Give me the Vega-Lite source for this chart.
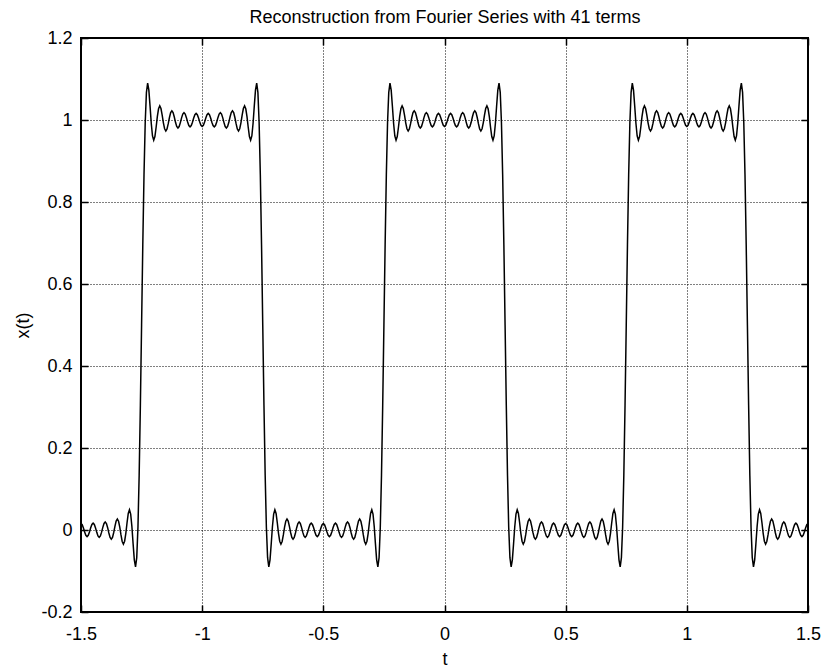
{
 "$schema": "https://vega.github.io/schema/vega-lite/v6.json",
 "width": 727,
 "height": 574,
 "autosize": {"type": "none"},
 "padding": {"left": 81, "top": 38, "right": 18, "bottom": 55},
 "background": "white",
 "config": {"font": "Liberation Sans", "view": {"stroke": "black", "strokeWidth": 2}},
 "data": {"values": [
{"t":-1.5,"x":0.0159},{"t":-1.495,"x":0.0128},{"t":-1.49,"x":0.0049},{"t":-1.485,"x":-0.005},{"t":-1.48,"x":-0.013},{"t":-1.475,"x":-0.0161},{"t":-1.47,"x":-0.013},{"t":-1.465,"x":-0.0049},{"t":-1.46,"x":0.0053},{"t":-1.455,"x":0.0135},{"t":-1.45,"x":0.0167},{"t":-1.445,"x":0.0135},{"t":-1.44,"x":0.005},{"t":-1.435,"x":-0.0057},{"t":-1.43,"x":-0.0144},{"t":-1.425,"x":-0.0178},{"t":-1.42,"x":-0.0143},{"t":-1.415,"x":-0.0052},{"t":-1.41,"x":0.0064},{"t":-1.405,"x":0.0159},{"t":-1.4,"x":0.0196},{"t":-1.395,"x":0.0158},{"t":-1.39,"x":0.0056},{"t":-1.385,"x":-0.0074},{"t":-1.38,"x":-0.0181},{"t":-1.375,"x":-0.0223},{"t":-1.37,"x":-0.018},{"t":-1.365,"x":-0.0061},{"t":-1.36,"x":0.009},{"t":-1.355,"x":0.0217},{"t":-1.35,"x":0.0268},{"t":-1.345,"x":0.0214},{"t":-1.34,"x":0.0069},{"t":-1.335,"x":-0.0119},{"t":-1.33,"x":-0.0279},{"t":-1.325,"x":-0.0344},{"t":-1.32,"x":-0.0274},{"t":-1.315,"x":-0.008},{"t":-1.31,"x":0.0177},{"t":-1.305,"x":0.0402},{"t":-1.3,"x":0.0494},{"t":-1.295,"x":0.0389},{"t":-1.29,"x":0.0086},{"t":-1.285,"x":-0.0336},{"t":-1.28,"x":-0.0727},{"t":-1.275,"x":-0.0899},{"t":-1.27,"x":-0.0675},{"t":-1.265,"x":0.0063},{"t":-1.26,"x":0.1334},{"t":-1.255,"x":0.3043},{"t":-1.25,"x":0.5},{"t":-1.245,"x":0.6957},{"t":-1.24,"x":0.8666},{"t":-1.235,"x":0.9937},{"t":-1.23,"x":1.0675},{"t":-1.225,"x":1.0899},{"t":-1.22,"x":1.0727},{"t":-1.215,"x":1.0336},{"t":-1.21,"x":0.9914},{"t":-1.205,"x":0.9611},{"t":-1.2,"x":0.9506},{"t":-1.195,"x":0.9598},{"t":-1.19,"x":0.9823},{"t":-1.185,"x":1.008},{"t":-1.18,"x":1.0274},{"t":-1.175,"x":1.0344},{"t":-1.17,"x":1.0279},{"t":-1.165,"x":1.0119},{"t":-1.16,"x":0.9931},{"t":-1.155,"x":0.9786},{"t":-1.15,"x":0.9732},{"t":-1.145,"x":0.9783},{"t":-1.14,"x":0.991},{"t":-1.135,"x":1.0061},{"t":-1.13,"x":1.018},{"t":-1.125,"x":1.0223},{"t":-1.12,"x":1.0181},{"t":-1.115,"x":1.0074},{"t":-1.11,"x":0.9944},{"t":-1.105,"x":0.9842},{"t":-1.1,"x":0.9804},{"t":-1.095,"x":0.9841},{"t":-1.09,"x":0.9936},{"t":-1.085,"x":1.0052},{"t":-1.08,"x":1.0143},{"t":-1.075,"x":1.0178},{"t":-1.07,"x":1.0144},{"t":-1.065,"x":1.0057},{"t":-1.06,"x":0.995},{"t":-1.055,"x":0.9865},{"t":-1.05,"x":0.9833},{"t":-1.045,"x":0.9865},{"t":-1.04,"x":0.9947},{"t":-1.035,"x":1.0049},{"t":-1.03,"x":1.013},{"t":-1.025,"x":1.0161},{"t":-1.02,"x":1.013},{"t":-1.015,"x":1.005},{"t":-1.01,"x":0.9951},{"t":-1.005,"x":0.9872},{"t":-1.0,"x":0.9841},
{"t":-0.995,"x":0.9872},{"t":-0.99,"x":0.9951},{"t":-0.985,"x":1.005},{"t":-0.98,"x":1.013},{"t":-0.975,"x":1.0161},{"t":-0.97,"x":1.013},{"t":-0.965,"x":1.0049},{"t":-0.96,"x":0.9947},{"t":-0.955,"x":0.9865},{"t":-0.95,"x":0.9833},{"t":-0.945,"x":0.9865},{"t":-0.94,"x":0.995},{"t":-0.935,"x":1.0057},{"t":-0.93,"x":1.0144},{"t":-0.925,"x":1.0178},{"t":-0.92,"x":1.0143},{"t":-0.915,"x":1.0052},{"t":-0.91,"x":0.9936},{"t":-0.905,"x":0.9841},{"t":-0.9,"x":0.9804},{"t":-0.895,"x":0.9842},{"t":-0.89,"x":0.9944},{"t":-0.885,"x":1.0074},{"t":-0.88,"x":1.0181},{"t":-0.875,"x":1.0223},{"t":-0.87,"x":1.018},{"t":-0.865,"x":1.0061},{"t":-0.86,"x":0.991},{"t":-0.855,"x":0.9783},{"t":-0.85,"x":0.9732},{"t":-0.845,"x":0.9786},{"t":-0.84,"x":0.9931},{"t":-0.835,"x":1.0119},{"t":-0.83,"x":1.0279},{"t":-0.825,"x":1.0344},{"t":-0.82,"x":1.0274},{"t":-0.815,"x":1.008},{"t":-0.81,"x":0.9823},{"t":-0.805,"x":0.9598},{"t":-0.8,"x":0.9506},{"t":-0.795,"x":0.9611},{"t":-0.79,"x":0.9914},{"t":-0.785,"x":1.0336},{"t":-0.78,"x":1.0727},{"t":-0.775,"x":1.0899},{"t":-0.77,"x":1.0675},{"t":-0.765,"x":0.9937},{"t":-0.76,"x":0.8666},{"t":-0.755,"x":0.6957},{"t":-0.75,"x":0.5},{"t":-0.745,"x":0.3043},{"t":-0.74,"x":0.1334},{"t":-0.735,"x":0.0063},{"t":-0.73,"x":-0.0675},{"t":-0.725,"x":-0.0899},{"t":-0.72,"x":-0.0727},{"t":-0.715,"x":-0.0336},{"t":-0.71,"x":0.0086},{"t":-0.705,"x":0.0389},{"t":-0.7,"x":0.0494},{"t":-0.695,"x":0.0402},{"t":-0.69,"x":0.0177},{"t":-0.685,"x":-0.008},{"t":-0.68,"x":-0.0274},{"t":-0.675,"x":-0.0344},{"t":-0.67,"x":-0.0279},{"t":-0.665,"x":-0.0119},{"t":-0.66,"x":0.0069},{"t":-0.655,"x":0.0214},{"t":-0.65,"x":0.0268},{"t":-0.645,"x":0.0217},{"t":-0.64,"x":0.009},{"t":-0.635,"x":-0.0061},{"t":-0.63,"x":-0.018},{"t":-0.625,"x":-0.0223},{"t":-0.62,"x":-0.0181},{"t":-0.615,"x":-0.0074},{"t":-0.61,"x":0.0056},{"t":-0.605,"x":0.0158},{"t":-0.6,"x":0.0196},{"t":-0.595,"x":0.0159},{"t":-0.59,"x":0.0064},{"t":-0.585,"x":-0.0052},{"t":-0.58,"x":-0.0143},{"t":-0.575,"x":-0.0178},{"t":-0.57,"x":-0.0144},{"t":-0.565,"x":-0.0057},{"t":-0.56,"x":0.005},{"t":-0.555,"x":0.0135},{"t":-0.55,"x":0.0167},{"t":-0.545,"x":0.0135},{"t":-0.54,"x":0.0053},{"t":-0.535,"x":-0.0049},{"t":-0.53,"x":-0.013},{"t":-0.525,"x":-0.0161},{"t":-0.52,"x":-0.013},{"t":-0.515,"x":-0.005},{"t":-0.51,"x":0.0049},{"t":-0.505,"x":0.0128},{"t":-0.5,"x":0.0159},
{"t":-0.495,"x":0.0128},{"t":-0.49,"x":0.0049},{"t":-0.485,"x":-0.005},{"t":-0.48,"x":-0.013},{"t":-0.475,"x":-0.0161},{"t":-0.47,"x":-0.013},{"t":-0.465,"x":-0.0049},{"t":-0.46,"x":0.0053},{"t":-0.455,"x":0.0135},{"t":-0.45,"x":0.0167},{"t":-0.445,"x":0.0135},{"t":-0.44,"x":0.005},{"t":-0.435,"x":-0.0057},{"t":-0.43,"x":-0.0144},{"t":-0.425,"x":-0.0178},{"t":-0.42,"x":-0.0143},{"t":-0.415,"x":-0.0052},{"t":-0.41,"x":0.0064},{"t":-0.405,"x":0.0159},{"t":-0.4,"x":0.0196},{"t":-0.395,"x":0.0158},{"t":-0.39,"x":0.0056},{"t":-0.385,"x":-0.0074},{"t":-0.38,"x":-0.0181},{"t":-0.375,"x":-0.0223},{"t":-0.37,"x":-0.018},{"t":-0.365,"x":-0.0061},{"t":-0.36,"x":0.009},{"t":-0.355,"x":0.0217},{"t":-0.35,"x":0.0268},{"t":-0.345,"x":0.0214},{"t":-0.34,"x":0.0069},{"t":-0.335,"x":-0.0119},{"t":-0.33,"x":-0.0279},{"t":-0.325,"x":-0.0344},{"t":-0.32,"x":-0.0274},{"t":-0.315,"x":-0.008},{"t":-0.31,"x":0.0177},{"t":-0.305,"x":0.0402},{"t":-0.3,"x":0.0494},{"t":-0.295,"x":0.0389},{"t":-0.29,"x":0.0086},{"t":-0.285,"x":-0.0336},{"t":-0.28,"x":-0.0727},{"t":-0.275,"x":-0.0899},{"t":-0.27,"x":-0.0675},{"t":-0.265,"x":0.0063},{"t":-0.26,"x":0.1334},{"t":-0.255,"x":0.3043},{"t":-0.25,"x":0.5},{"t":-0.245,"x":0.6957},{"t":-0.24,"x":0.8666},{"t":-0.235,"x":0.9937},{"t":-0.23,"x":1.0675},{"t":-0.225,"x":1.0899},{"t":-0.22,"x":1.0727},{"t":-0.215,"x":1.0336},{"t":-0.21,"x":0.9914},{"t":-0.205,"x":0.9611},{"t":-0.2,"x":0.9506},{"t":-0.195,"x":0.9598},{"t":-0.19,"x":0.9823},{"t":-0.185,"x":1.008},{"t":-0.18,"x":1.0274},{"t":-0.175,"x":1.0344},{"t":-0.17,"x":1.0279},{"t":-0.165,"x":1.0119},{"t":-0.16,"x":0.9931},{"t":-0.155,"x":0.9786},{"t":-0.15,"x":0.9732},{"t":-0.145,"x":0.9783},{"t":-0.14,"x":0.991},{"t":-0.135,"x":1.0061},{"t":-0.13,"x":1.018},{"t":-0.125,"x":1.0223},{"t":-0.12,"x":1.0181},{"t":-0.115,"x":1.0074},{"t":-0.11,"x":0.9944},{"t":-0.105,"x":0.9842},{"t":-0.1,"x":0.9804},{"t":-0.095,"x":0.9841},{"t":-0.09,"x":0.9936},{"t":-0.085,"x":1.0052},{"t":-0.08,"x":1.0143},{"t":-0.075,"x":1.0178},{"t":-0.07,"x":1.0144},{"t":-0.065,"x":1.0057},{"t":-0.06,"x":0.995},{"t":-0.055,"x":0.9865},{"t":-0.05,"x":0.9833},{"t":-0.045,"x":0.9865},{"t":-0.04,"x":0.9947},{"t":-0.035,"x":1.0049},{"t":-0.03,"x":1.013},{"t":-0.025,"x":1.0161},{"t":-0.02,"x":1.013},{"t":-0.015,"x":1.005},{"t":-0.01,"x":0.9951},{"t":-0.005,"x":0.9872},{"t":0,"x":0.9841},
{"t":0.005,"x":0.9872},{"t":0.01,"x":0.9951},{"t":0.015,"x":1.005},{"t":0.02,"x":1.013},{"t":0.025,"x":1.0161},{"t":0.03,"x":1.013},{"t":0.035,"x":1.0049},{"t":0.04,"x":0.9947},{"t":0.045,"x":0.9865},{"t":0.05,"x":0.9833},{"t":0.055,"x":0.9865},{"t":0.06,"x":0.995},{"t":0.065,"x":1.0057},{"t":0.07,"x":1.0144},{"t":0.075,"x":1.0178},{"t":0.08,"x":1.0143},{"t":0.085,"x":1.0052},{"t":0.09,"x":0.9936},{"t":0.095,"x":0.9841},{"t":0.1,"x":0.9804},{"t":0.105,"x":0.9842},{"t":0.11,"x":0.9944},{"t":0.115,"x":1.0074},{"t":0.12,"x":1.0181},{"t":0.125,"x":1.0223},{"t":0.13,"x":1.018},{"t":0.135,"x":1.0061},{"t":0.14,"x":0.991},{"t":0.145,"x":0.9783},{"t":0.15,"x":0.9732},{"t":0.155,"x":0.9786},{"t":0.16,"x":0.9931},{"t":0.165,"x":1.0119},{"t":0.17,"x":1.0279},{"t":0.175,"x":1.0344},{"t":0.18,"x":1.0274},{"t":0.185,"x":1.008},{"t":0.19,"x":0.9823},{"t":0.195,"x":0.9598},{"t":0.2,"x":0.9506},{"t":0.205,"x":0.9611},{"t":0.21,"x":0.9914},{"t":0.215,"x":1.0336},{"t":0.22,"x":1.0727},{"t":0.225,"x":1.0899},{"t":0.23,"x":1.0675},{"t":0.235,"x":0.9937},{"t":0.24,"x":0.8666},{"t":0.245,"x":0.6957},{"t":0.25,"x":0.5},{"t":0.255,"x":0.3043},{"t":0.26,"x":0.1334},{"t":0.265,"x":0.0063},{"t":0.27,"x":-0.0675},{"t":0.275,"x":-0.0899},{"t":0.28,"x":-0.0727},{"t":0.285,"x":-0.0336},{"t":0.29,"x":0.0086},{"t":0.295,"x":0.0389},{"t":0.3,"x":0.0494},{"t":0.305,"x":0.0402},{"t":0.31,"x":0.0177},{"t":0.315,"x":-0.008},{"t":0.32,"x":-0.0274},{"t":0.325,"x":-0.0344},{"t":0.33,"x":-0.0279},{"t":0.335,"x":-0.0119},{"t":0.34,"x":0.0069},{"t":0.345,"x":0.0214},{"t":0.35,"x":0.0268},{"t":0.355,"x":0.0217},{"t":0.36,"x":0.009},{"t":0.365,"x":-0.0061},{"t":0.37,"x":-0.018},{"t":0.375,"x":-0.0223},{"t":0.38,"x":-0.0181},{"t":0.385,"x":-0.0074},{"t":0.39,"x":0.0056},{"t":0.395,"x":0.0158},{"t":0.4,"x":0.0196},{"t":0.405,"x":0.0159},{"t":0.41,"x":0.0064},{"t":0.415,"x":-0.0052},{"t":0.42,"x":-0.0143},{"t":0.425,"x":-0.0178},{"t":0.43,"x":-0.0144},{"t":0.435,"x":-0.0057},{"t":0.44,"x":0.005},{"t":0.445,"x":0.0135},{"t":0.45,"x":0.0167},{"t":0.455,"x":0.0135},{"t":0.46,"x":0.0053},{"t":0.465,"x":-0.0049},{"t":0.47,"x":-0.013},{"t":0.475,"x":-0.0161},{"t":0.48,"x":-0.013},{"t":0.485,"x":-0.005},{"t":0.49,"x":0.0049},{"t":0.495,"x":0.0128},{"t":0.5,"x":0.0159},
{"t":0.505,"x":0.0128},{"t":0.51,"x":0.0049},{"t":0.515,"x":-0.005},{"t":0.52,"x":-0.013},{"t":0.525,"x":-0.0161},{"t":0.53,"x":-0.013},{"t":0.535,"x":-0.0049},{"t":0.54,"x":0.0053},{"t":0.545,"x":0.0135},{"t":0.55,"x":0.0167},{"t":0.555,"x":0.0135},{"t":0.56,"x":0.005},{"t":0.565,"x":-0.0057},{"t":0.57,"x":-0.0144},{"t":0.575,"x":-0.0178},{"t":0.58,"x":-0.0143},{"t":0.585,"x":-0.0052},{"t":0.59,"x":0.0064},{"t":0.595,"x":0.0159},{"t":0.6,"x":0.0196},{"t":0.605,"x":0.0158},{"t":0.61,"x":0.0056},{"t":0.615,"x":-0.0074},{"t":0.62,"x":-0.0181},{"t":0.625,"x":-0.0223},{"t":0.63,"x":-0.018},{"t":0.635,"x":-0.0061},{"t":0.64,"x":0.009},{"t":0.645,"x":0.0217},{"t":0.65,"x":0.0268},{"t":0.655,"x":0.0214},{"t":0.66,"x":0.0069},{"t":0.665,"x":-0.0119},{"t":0.67,"x":-0.0279},{"t":0.675,"x":-0.0344},{"t":0.68,"x":-0.0274},{"t":0.685,"x":-0.008},{"t":0.69,"x":0.0177},{"t":0.695,"x":0.0402},{"t":0.7,"x":0.0494},{"t":0.705,"x":0.0389},{"t":0.71,"x":0.0086},{"t":0.715,"x":-0.0336},{"t":0.72,"x":-0.0727},{"t":0.725,"x":-0.0899},{"t":0.73,"x":-0.0675},{"t":0.735,"x":0.0063},{"t":0.74,"x":0.1334},{"t":0.745,"x":0.3043},{"t":0.75,"x":0.5},{"t":0.755,"x":0.6957},{"t":0.76,"x":0.8666},{"t":0.765,"x":0.9937},{"t":0.77,"x":1.0675},{"t":0.775,"x":1.0899},{"t":0.78,"x":1.0727},{"t":0.785,"x":1.0336},{"t":0.79,"x":0.9914},{"t":0.795,"x":0.9611},{"t":0.8,"x":0.9506},{"t":0.805,"x":0.9598},{"t":0.81,"x":0.9823},{"t":0.815,"x":1.008},{"t":0.82,"x":1.0274},{"t":0.825,"x":1.0344},{"t":0.83,"x":1.0279},{"t":0.835,"x":1.0119},{"t":0.84,"x":0.9931},{"t":0.845,"x":0.9786},{"t":0.85,"x":0.9732},{"t":0.855,"x":0.9783},{"t":0.86,"x":0.991},{"t":0.865,"x":1.0061},{"t":0.87,"x":1.018},{"t":0.875,"x":1.0223},{"t":0.88,"x":1.0181},{"t":0.885,"x":1.0074},{"t":0.89,"x":0.9944},{"t":0.895,"x":0.9842},{"t":0.9,"x":0.9804},{"t":0.905,"x":0.9841},{"t":0.91,"x":0.9936},{"t":0.915,"x":1.0052},{"t":0.92,"x":1.0143},{"t":0.925,"x":1.0178},{"t":0.93,"x":1.0144},{"t":0.935,"x":1.0057},{"t":0.94,"x":0.995},{"t":0.945,"x":0.9865},{"t":0.95,"x":0.9833},{"t":0.955,"x":0.9865},{"t":0.96,"x":0.9947},{"t":0.965,"x":1.0049},{"t":0.97,"x":1.013},{"t":0.975,"x":1.0161},{"t":0.98,"x":1.013},{"t":0.985,"x":1.005},{"t":0.99,"x":0.9951},{"t":0.995,"x":0.9872},{"t":1.0,"x":0.9841},
{"t":1.005,"x":0.9872},{"t":1.01,"x":0.9951},{"t":1.015,"x":1.005},{"t":1.02,"x":1.013},{"t":1.025,"x":1.0161},{"t":1.03,"x":1.013},{"t":1.035,"x":1.0049},{"t":1.04,"x":0.9947},{"t":1.045,"x":0.9865},{"t":1.05,"x":0.9833},{"t":1.055,"x":0.9865},{"t":1.06,"x":0.995},{"t":1.065,"x":1.0057},{"t":1.07,"x":1.0144},{"t":1.075,"x":1.0178},{"t":1.08,"x":1.0143},{"t":1.085,"x":1.0052},{"t":1.09,"x":0.9936},{"t":1.095,"x":0.9841},{"t":1.1,"x":0.9804},{"t":1.105,"x":0.9842},{"t":1.11,"x":0.9944},{"t":1.115,"x":1.0074},{"t":1.12,"x":1.0181},{"t":1.125,"x":1.0223},{"t":1.13,"x":1.018},{"t":1.135,"x":1.0061},{"t":1.14,"x":0.991},{"t":1.145,"x":0.9783},{"t":1.15,"x":0.9732},{"t":1.155,"x":0.9786},{"t":1.16,"x":0.9931},{"t":1.165,"x":1.0119},{"t":1.17,"x":1.0279},{"t":1.175,"x":1.0344},{"t":1.18,"x":1.0274},{"t":1.185,"x":1.008},{"t":1.19,"x":0.9823},{"t":1.195,"x":0.9598},{"t":1.2,"x":0.9506},{"t":1.205,"x":0.9611},{"t":1.21,"x":0.9914},{"t":1.215,"x":1.0336},{"t":1.22,"x":1.0727},{"t":1.225,"x":1.0899},{"t":1.23,"x":1.0675},{"t":1.235,"x":0.9937},{"t":1.24,"x":0.8666},{"t":1.245,"x":0.6957},{"t":1.25,"x":0.5},{"t":1.255,"x":0.3043},{"t":1.26,"x":0.1334},{"t":1.265,"x":0.0063},{"t":1.27,"x":-0.0675},{"t":1.275,"x":-0.0899},{"t":1.28,"x":-0.0727},{"t":1.285,"x":-0.0336},{"t":1.29,"x":0.0086},{"t":1.295,"x":0.0389},{"t":1.3,"x":0.0494},{"t":1.305,"x":0.0402},{"t":1.31,"x":0.0177},{"t":1.315,"x":-0.008},{"t":1.32,"x":-0.0274},{"t":1.325,"x":-0.0344},{"t":1.33,"x":-0.0279},{"t":1.335,"x":-0.0119},{"t":1.34,"x":0.0069},{"t":1.345,"x":0.0214},{"t":1.35,"x":0.0268},{"t":1.355,"x":0.0217},{"t":1.36,"x":0.009},{"t":1.365,"x":-0.0061},{"t":1.37,"x":-0.018},{"t":1.375,"x":-0.0223},{"t":1.38,"x":-0.0181},{"t":1.385,"x":-0.0074},{"t":1.39,"x":0.0056},{"t":1.395,"x":0.0158},{"t":1.4,"x":0.0196},{"t":1.405,"x":0.0159},{"t":1.41,"x":0.0064},{"t":1.415,"x":-0.0052},{"t":1.42,"x":-0.0143},{"t":1.425,"x":-0.0178},{"t":1.43,"x":-0.0144},{"t":1.435,"x":-0.0057},{"t":1.44,"x":0.005},{"t":1.445,"x":0.0135},{"t":1.45,"x":0.0167},{"t":1.455,"x":0.0135},{"t":1.46,"x":0.0053},{"t":1.465,"x":-0.0049},{"t":1.47,"x":-0.013},{"t":1.475,"x":-0.0161},{"t":1.48,"x":-0.013},{"t":1.485,"x":-0.005},{"t":1.49,"x":0.0049},{"t":1.495,"x":0.0128},{"t":1.5,"x":0.0159}
 ]},
 "layer": [
  {
   "mark": {"type": "line", "color": "black", "strokeWidth": 1.5},
   "encoding": {
    "x": {"field": "t", "type": "quantitative", "scale": {"domain": [-1.5, 1.5], "nice": false, "zero": false},
     "axis": {"orient": "bottom", "values": [-1.5, -1, -0.5, 0, 0.5, 1, 1.5], "labelExpr": "'' + datum.value", "ticks": false, "tickSize": 0, "domain": false, "grid": true, "gridColor": "black", "gridDash": [1, 2], "gridWidth": 1, "labelFontSize": 18, "labelColor": "black", "labelFont": "Liberation Sans", "labelBaseline": "alphabetic", "labelPadding": 27, "labelFlush": false, "labelOverlap": false, "title": "t", "titleFontSize": 18, "titleFontWeight": "normal", "titleColor": "black", "titleFont": "Liberation Sans", "titleX": 363.5, "titleY": 52, "titleAlign": "center", "titleBaseline": "alphabetic"}},
    "y": {"field": "x", "type": "quantitative", "scale": {"domain": [-0.2, 1.2], "nice": false, "zero": false},
     "axis": {"orient": "left", "values": [-0.2, 0, 0.2, 0.4, 0.6, 0.8, 1, 1.2], "labelExpr": "'' + datum.value", "ticks": false, "tickSize": 0, "domain": false, "grid": true, "gridColor": "black", "gridDash": [1, 2], "gridWidth": 1, "labelFontSize": 18, "labelColor": "black", "labelFont": "Liberation Sans", "labelBaseline": "middle", "labelAlign": "right", "labelPadding": 9, "labelFlush": false, "labelOverlap": false, "title": "x(t)", "titleFontSize": 18, "titleFontWeight": "normal", "titleColor": "black", "titleFont": "Liberation Sans", "titleX": -58, "titleY": 287, "titleAngle": -90, "titleAlign": "center", "titleBaseline": "middle"}}
   }
  },
  {
   "mark": {"type": "line", "strokeOpacity": 0},
   "encoding": {
    "x": {"field": "t", "type": "quantitative", "scale": {"domain": [-1.5, 1.5], "nice": false, "zero": false},
     "axis": {"orient": "top", "values": [-1.5, -1, -0.5, 0, 0.5, 1, 1.5], "labels": false, "grid": false, "domain": false, "ticks": true, "tickSize": -7, "tickColor": "black", "tickWidth": 1.5, "title": "Reconstruction from Fourier Series with 41 terms", "titleFontSize": 18, "titleFontWeight": "normal", "titleColor": "black", "titleFont": "Liberation Sans", "titleX": 363.5, "titleY": -16, "titleAlign": "center", "titleBaseline": "alphabetic"}},
    "y": {"field": "x", "type": "quantitative", "scale": {"domain": [-0.2, 1.2], "nice": false, "zero": false},
     "axis": {"orient": "right", "values": [-0.2, 0, 0.2, 0.4, 0.6, 0.8, 1, 1.2], "labels": false, "grid": false, "domain": false, "ticks": true, "tickSize": -7, "tickColor": "black", "tickWidth": 1.5, "title": null}}
   }
  },
  {
   "mark": {"type": "line", "strokeOpacity": 0},
   "encoding": {
    "x": {"field": "t", "type": "quantitative", "scale": {"domain": [-1.5, 1.5], "nice": false, "zero": false},
     "axis": {"orient": "bottom", "values": [-1.5, -1, -0.5, 0, 0.5, 1, 1.5], "labels": false, "grid": false, "domain": false, "ticks": true, "tickSize": -7, "tickColor": "black", "tickWidth": 1.5, "title": null}},
    "y": {"field": "x", "type": "quantitative", "scale": {"domain": [-0.2, 1.2], "nice": false, "zero": false},
     "axis": {"orient": "left", "values": [-0.2, 0, 0.2, 0.4, 0.6, 0.8, 1, 1.2], "labels": false, "grid": false, "domain": false, "ticks": true, "tickSize": -7, "tickColor": "black", "tickWidth": 1.5, "title": null}}
   }
  }
 ],
 "resolve": {"axis": {"x": "independent", "y": "independent"}}
}
